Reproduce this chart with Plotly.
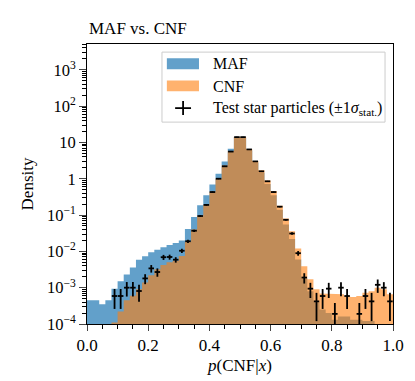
import plotly.graph_objects as go

# histogram bins: 50 bins of width 0.02 on [0, 1]
bin_width = 0.02
bin_left = [round(i * bin_width, 2) for i in range(50)]

# densities (None = empty bin)
maf_density = [4.5e-4, 4.5e-4, 3.5e-4, 4.5e-4, 9.3e-4, 1.5e-3, 2.3e-3, 3.6e-3, 5.9e-3, 7.3e-3,
               9.4e-3, 0.011, 0.013, 0.015, 0.017, 0.020, 0.041, 0.088, 0.185, 0.35,
               0.69, 1.37, 3.0, 6.7, 14.0, 13.5, 6.0, 2.8, 1.45, 0.72,
               0.35, 0.14, 0.055, 0.022, 0.006, 1.8e-3, 8e-4, 4e-4, 2.5e-4, 2e-4,
               1.3e-4, 1.6e-4, 1.6e-4, 1.3e-4, 1.3e-4, 1.2e-4, 1.2e-4, None, None, None]

cnf_density = [None, None, None, None, 1.1e-4, 2.2e-4, 4.5e-4, 6e-4, 9e-4, 1.4e-3,
               2.2e-3, 3.2e-3, 4.2e-3, 5e-3, 5.5e-3, 7.5e-3, 0.018, 0.04, 0.095, 0.19,
               0.44, 1.0, 2.3, 5.8, 14.0, 14.0, 6.6, 3.1, 1.7, 0.9,
               0.46, 0.18, 0.08, 0.036, 0.012, 3.9e-3, 1.7e-3, 9e-4, 6.9e-4, 6.6e-4,
               6.6e-4, 6.6e-4, 5.9e-4, 5.5e-4, 5.9e-4, 7.3e-4, 8e-4, 1e-3, 9e-4, 6.6e-4]

test_density = [None, None, None, None, 5.9e-4, 5.9e-4, 1.0e-3, 1.0e-3, 8.1e-4, 1.8e-3,
                3.4e-3, 2.7e-3, 6.9e-3, 7.0e-3, 5.9e-3, 0.0104, 0.019, 0.037, 0.094, 0.19,
                0.43, 1.0, 2.2, 5.6, 14.0, 14.0, 6.4, 3.0, 1.6, 0.85,
                0.43, 0.17, 0.074, 0.031, 0.0089, 1.9e-3, 9.4e-4, 4.2e-4, 5.9e-4, 9.4e-4,
                1.9e-4, 1.0e-3, 5.9e-4, None, 1.9e-4, 5.9e-4, 4.2e-4, 1.2e-3, 1.0e-3, 4.2e-4]

test_err = [None, None, None, None, 3.3e-4, 3.3e-4, 4.3e-4, 4.3e-4, 4e-4, 5.5e-4,
            8e-4, 7e-4, 1.1e-3, 1.1e-3, 1e-3, 1.4e-3, 1.9e-3, 2.6e-3, 4e-3, 6e-3,
            9e-3, 0.014, 0.02, 0.033, 0.05, 0.05, 0.035, 0.024, 0.017, 0.013,
            9e-3, 5.7e-3, 3.7e-3, 2.4e-3, 1.3e-3, 6e-4, 4.2e-4, 3e-4, 3.3e-4, 4.2e-4,
            1.9e-4, 4.2e-4, 3.3e-4, None, 1.9e-4, 3.3e-4, 3e-4, 4.8e-4, 4.2e-4, 3e-4]

ytick_vals = [1e-4, 1e-3, 1e-2, 1e-1, 1, 10, 1e2, 1e3]
ytick_text = ["10<sup>\u22124</sup>", "10<sup>\u22123</sup>", "10<sup>\u22122</sup>",
              "10<sup>\u22121</sup>", "1", "10", "10<sup>2</sup>", "10<sup>3</sup>"]

FONT = "Liberation Serif"
FLOOR = 1e-7  # below the visible range, used to close the step outlines


def step_outline(values):
    """closed stepfilled outline for a histogram"""
    xs, ys = [0.0], [FLOOR]
    for left, v in zip(bin_left, values):
        v = v if v else FLOOR
        xs += [left, left + bin_width]
        ys += [v, v]
    xs.append(1.0)
    ys.append(FLOOR)
    return xs, ys


fig = go.Figure()

x_maf, y_maf = step_outline(maf_density)
fig.add_trace(go.Scatter(x=x_maf, y=y_maf, mode="lines", fill="toself",
                         fillcolor="rgba(31,119,180,0.7)", line=dict(width=0),
                         hoverinfo="skip", showlegend=False))

x_cnf, y_cnf = step_outline(cnf_density)
fig.add_trace(go.Scatter(x=x_cnf, y=y_cnf, mode="lines", fill="toself",
                         fillcolor="rgba(255,127,14,0.6)", line=dict(width=0),
                         hoverinfo="skip", showlegend=False))

# test star particles with poisson errors
tx = [l + bin_width / 2 for l, v in zip(bin_left, test_density) if v]
ty = [v for v in test_density if v]
te = [e for v, e in zip(test_density, test_err) if v]
fig.add_trace(go.Scatter(x=tx, y=ty, mode="markers",
                         marker=dict(size=1, color="black"),
                         error_x=dict(type="constant", value=0.009, width=0,
                                      thickness=1.8, color="black"),
                         error_y=dict(type="data", array=te, width=0,
                                      thickness=1.8, color="black"),
                         showlegend=False))

# legend drawn by hand, matplotlib style
shapes = [
    dict(type="rect", xref="paper", yref="paper", x0=0.245, x1=0.974, y0=0.721, y1=0.971,
         line=dict(color="#cccccc", width=1), fillcolor="rgba(255,255,255,0.8)", layer="above"),
    dict(type="rect", xref="paper", yref="paper", x0=0.261, x1=0.366, y0=0.91, y1=0.949,
         line=dict(width=0), fillcolor="rgba(31,119,180,0.7)", layer="above"),
    dict(type="rect", xref="paper", yref="paper", x0=0.261, x1=0.366, y0=0.831, y1=0.870,
         line=dict(width=0), fillcolor="rgba(255,127,14,0.6)", layer="above"),
    dict(type="line", xref="paper", yref="paper", x0=0.288, x1=0.34, y0=0.771, y1=0.771,
         line=dict(color="black", width=1.8), layer="above"),
    dict(type="line", xref="paper", yref="paper", x0=0.314, x1=0.314, y0=0.746, y1=0.796,
         line=dict(color="black", width=1.8), layer="above"),
]
legend_text = ["MAF", "CNF", "Test star particles (\u00b11<i>\u03c3</i><sub>stat.</sub>)"]
legend_y = [0.929, 0.85, 0.771]
annotations = [dict(text=t, x=0.405, y=y, xref="paper", yref="paper", xanchor="left",
                    yanchor="middle", showarrow=False, font=dict(size=16, color="black"))
               for t, y in zip(legend_text, legend_y)]

annotations.append(dict(text="MAF vs. CNF", x=0, y=1, xref="paper", yref="paper",
                        xanchor="left", yanchor="bottom", yshift=4, showarrow=False,
                        font=dict(size=17, color="black")))

fig.update_layout(
    width=415, height=381,
    margin=dict(l=79, r=30, t=36, b=65),
    paper_bgcolor="white", plot_bgcolor="white",
    font=dict(family=FONT, size=16, color="black"),
    shapes=shapes, annotations=annotations,
    showlegend=False,
)
fig.update_xaxes(range=[0, 1], showline=True, linecolor="black", linewidth=1, mirror=True,
                 showgrid=False, zeroline=False, ticks="outside", ticklen=6, tickwidth=1,
                 tickvals=[0, 0.2, 0.4, 0.6, 0.8, 1.0],
                 ticktext=["0.0", "0.2", "0.4", "0.6", "0.8", "1.0"],
                 tickfont=dict(size=17),
                 minor=dict(ticks="outside", ticklen=3.5, tickcolor="black", dtick=0.05),
                 title=dict(text="<i>p</i>(CNF|<i>x</i>)", standoff=4, font=dict(size=17)))
fig.update_yaxes(type="log", range=[-4, 3.71], showline=True, linecolor="black", linewidth=1,
                 mirror=True, showgrid=False, zeroline=False, ticks="outside", ticklen=7,
                 tickwidth=1, tickvals=ytick_vals, ticktext=ytick_text,
                 tickfont=dict(size=16.5),
                 minor=dict(ticks="outside", ticklen=4, tickcolor="black",
                            tickvals=[m * 10 ** k for k in range(-4, 4) for m in range(2, 10)]),
                 title=dict(text="Density", standoff=8, font=dict(size=17)))

fig.write_html("out.html")
